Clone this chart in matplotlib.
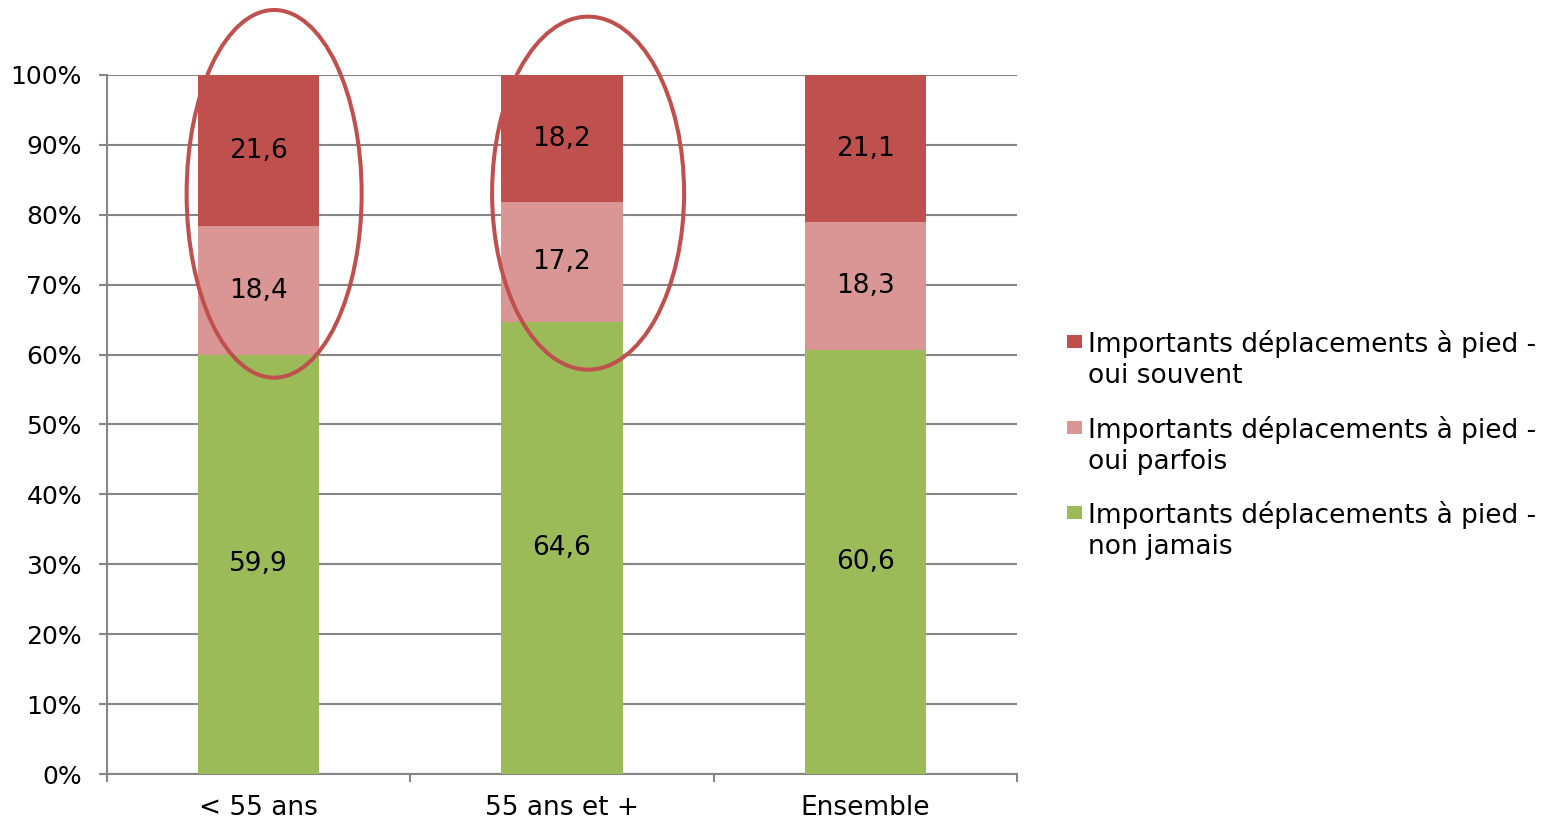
import matplotlib
matplotlib.use("Agg")
import matplotlib.pyplot as plt
from matplotlib.patches import Ellipse, Rectangle
import numpy as np

plt.rcParams['font.family'] = ['DejaVu Sans']

categories = ["< 55 ans", "55 ans et +", "Ensemble"]
non_jamais = [59.9, 64.6, 60.6]
oui_parfois = [18.4, 17.2, 18.3]
oui_souvent = [21.6, 18.2, 21.1]

series_labels = [
    "Importants déplacements à pied -\nnon jamais",
    "Importants déplacements à pied -\noui parfois",
    "Importants déplacements à pied -\noui souvent",
]
series_colors = ["#9BBB59", "#D99694", "#C0504D"]
y_ticks = [0, 10, 20, 30, 40, 50, 60, 70, 80, 90, 100]
y_tick_labels = [f"{v}%" for v in y_ticks]

W, H = 1558, 821
fig = plt.figure(figsize=(W / 100, H / 100), dpi=100)
ax = fig.add_axes([107 / W, (H - 774) / H, (1017 - 107) / W, (774 - 75) / H])

data = np.array([non_jamais, oui_parfois, oui_souvent])
totals = data.sum(axis=0)
shares = data / totals * 100  # 100% stacked
x = np.arange(len(categories))
bottom = np.zeros(len(categories))
for i in range(3):
    ax.bar(x, shares[i], width=0.4, bottom=bottom, color=series_colors[i],
           zorder=3, linewidth=0)
    for j in range(len(categories)):
        ax.text(x[j], bottom[j] + shares[i][j] / 2,
                f"{data[i][j]:.1f}".replace(".", ","),
                ha="center", va="center", fontsize=19, color="black", zorder=4)
    bottom += shares[i]

ax.set_xlim(-0.5, 2.5)
ax.set_ylim(0, 100)
ax.set_yticks(y_ticks)
ax.set_yticklabels(y_tick_labels, fontsize=18)
ax.yaxis.grid(True, color="#868686", linewidth=1.5, zorder=0)
ax.set_axisbelow(True)

ax.set_xticks([-0.5, 0.5, 1.5, 2.5])
ax.set_xticklabels([])
ax.set_xticks(x, minor=True)
ax.set_xticklabels(categories, minor=True, fontsize=19)
ax.tick_params(axis="x", which="major", length=6, width=1.5, color="#868686")
ax.tick_params(axis="x", which="minor", length=0, pad=15)
ax.tick_params(axis="y", length=6, width=1.5, color="#868686", pad=12)

for s in ["top", "right"]:
    ax.spines[s].set_visible(False)
for s in ["left", "bottom"]:
    ax.spines[s].set_color("#868686")
    ax.spines[s].set_linewidth(1.5)

# ellipses around the first two groups
ellipse_specs = [(0.051, 83.0, 0.577, 52.6), (1.086, 83.1, 0.633, 50.5)]
for (cx, cy, ew, eh) in ellipse_specs:
    ax.add_patch(Ellipse((cx, cy), ew, eh, fill=False, edgecolor="#C0504D",
                         linewidth=2.9, zorder=5, clip_on=False))

# legend (top entry = last series), first-line baselines in pixels
baselines = [352, 438, 523]
line_gap = 31
for k, i in enumerate([2, 1, 0]):
    yb = baselines[k]
    fig.patches.append(Rectangle((1067 / W, (H - (yb - 4)) / H), 15 / W, 13 / H,
                                 transform=fig.transFigure,
                                 facecolor=series_colors[i], edgecolor="none"))
    first, second = series_labels[i].split("\n")
    fig.text(1088 / W, (H - yb) / H, first, fontsize=19, va="baseline", ha="left")
    fig.text(1088 / W, (H - yb - line_gap) / H, second, fontsize=19,
             va="baseline", ha="left")

fig.savefig("out.png", dpi=100)
